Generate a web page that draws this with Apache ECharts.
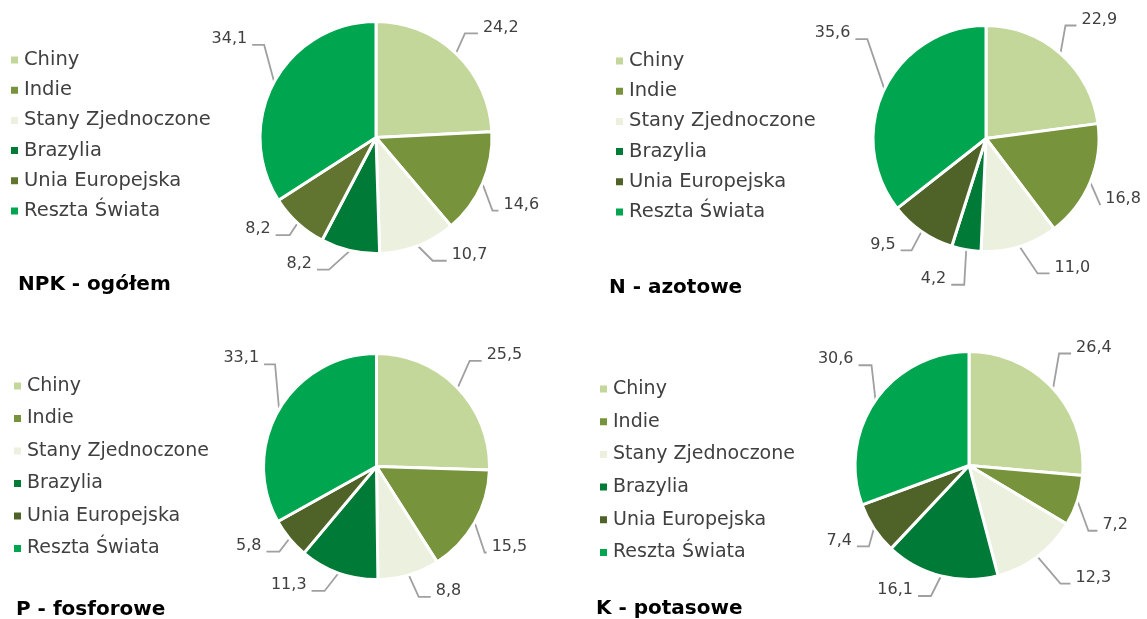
<!DOCTYPE html>
<html><head><meta charset="utf-8">
<script src="https://cdn.jsdelivr.net/npm/echarts@6/dist/echarts.min.js"></script>
<style>html,body{margin:0;padding:0;background:#fff}#c{width:1147px;height:619px}</style>
</head><body><div id="c"></div>
<script>
const categories = ['Chiny','Indie','Stany Zjednoczone','Brazylia','Unia Europejska','Reszta Świata'];
const titles = ['NPK - ogółem','N - azotowe','P - fosforowe','K - potasowe'];
const npk = [24.2,14.6,10.7,8.2,8.2,34.1];
const nAzot = [22.9,16.8,11.0,4.2,9.5,35.6];
const pFosf = [25.5,15.5,8.8,11.3,5.8,33.1];
const kPot = [26.4,7.2,12.3,16.1,7.4,30.6];
const allData = [npk,nAzot,pFosf,kPot];

// styling
const palettes = [
  ['#C4D79B','#77933C','#EBF1DE','#007A37','#617430','#00A550'],
  ['#C4D79B','#77933C','#EBF1DE','#007A37','#4F6228','#00A550'],
  ['#C4D79B','#77933C','#EBF1DE','#007A37','#4F6228','#00A550'],
  ['#C4D79B','#77933C','#EBF1DE','#007A37','#4F6228','#00A550']
];
// label-line elbow offset from the slice edge, and horizontal segment length (style only)
const elbow = [
  [[9,-20],[10,27],[15,15],[-21,19],[-8,12],[-10,-37]],
  [[5,-28],[10,23],[18,27],[-2,35],[-10,19],[-17,-50]],
  [[12,-27],[10,30],[10,22],[-14,18],[-10,13],[-4,-45]],
  [[6,-35],[11,30],[23,27],[-10,20],[-5,18],[-4,-35]]
];
const horiz = [[13,6,14,12,14,12],[11,0,12,13,11,12],[12,2,12,13,13,11],[12,9,10,13,12,13]];

const FONT = 'DejaVu Sans';
const centers = [[376,137.5],[986,138.5],[376.5,466.5],[969,465.5]];
const radii = [116,113,113,114];
const legendPos = [[9,50,30.2,19.5],[614,51,30.2,19.5],[12,376,32.5,19],[598,379,32.7,19]];
const titlePos = [[13,270],[604,273],[11,595],[591,594]];

const chart = echarts.init(document.getElementById('c'));
const option = {
  animation:false,
  title: titles.map((t,i)=>({text:t,left:titlePos[i][0],top:titlePos[i][1],
    textStyle:{fontFamily:FONT,fontSize:20,fontWeight:'bold',color:'#000'}})),
  legend: legendPos.map((p,i)=>({
    orient:'vertical', left:p[0], top:p[1], icon:'rect', itemWidth:9, itemHeight:9,
    itemGap:p[2]-20, selectedMode:false, padding:0,
    data:categories.map((c,j)=>({name:c,itemStyle:{color:palettes[i][j]}})),
    textStyle:{fontFamily:FONT,fontSize:p[3],color:'#404040',lineHeight:20}
  })),
  series: allData.map((d,i)=>({
    type:'pie', center:centers[i], radius:radii[i], startAngle:90, clockwise:true,
    data: categories.map((c,j)=>({name:c,value:d[j],itemStyle:{color:palettes[i][j]}})),
    itemStyle:{borderColor:'#fff',borderWidth:3},
    label:{show:true,formatter:p=>p.value.toFixed(1).replace('.',','),overflow:'none',
      fontFamily:FONT,fontSize:16,color:'#404040'},
    labelLine:{show:true,smooth:false,length:10,length2:5,lineStyle:{color:'#A0A0A0',width:1.8}},
    labelLayout:function(p){
      const e = elbow[p.seriesIndex][p.dataIndex];
      const h = horiz[p.seriesIndex][p.dataIndex];
      const p0 = p.labelLinePoints[0];
      const left = e[0] < 0;
      const p1 = [p0[0]+e[0], p0[1]+e[1]];
      const p2 = [p1[0]+(left?-h:h), p1[1]];
      return {
        x: p2[0]+(left?-5:5), y: p2[1]-6,
        align: left?'right':'left', verticalAlign:'middle',
        labelLinePoints:[p0,p1,p2], hideOverlap:false, moveOverlap:null
      };
    },
    emphasis:{disabled:true}
  }))
};
chart.setOption(option);
</script></body></html>
